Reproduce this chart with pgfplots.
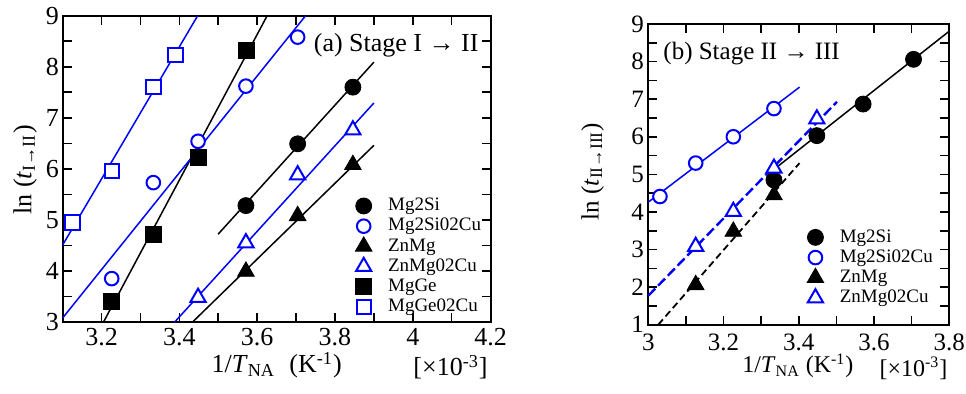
\documentclass[border=0pt]{standalone}
\usepackage{pgfplots}
\pgfplotsset{compat=1.18}
\usepackage{fontspec}
\setmainfont{Liberation Serif}
\definecolor{myblue}{RGB}{0,0,255}
\tikzset{
 fcirc/.style={black, mark=*, mark size=4pt, mark options={solid, fill=black}},
 ocirc/.style={myblue, mark=*, mark size=3.4pt, mark options={solid, fill=white, line width=1pt}},
 ftri/.style={black, mark=triangle*, mark size=4.8pt, mark options={solid, fill=black}},
 otri/.style={myblue, mark=triangle*, mark size=4.4pt, mark options={solid, fill=white, line width=1pt}},
 fsq/.style={black, mark=square*, mark size=4pt, mark options={solid, fill=black}},
 osq/.style={myblue, mark=square*, mark size=3.6pt, mark options={solid, fill=white, line width=1pt}},
}
\pgfplotsset{
 common/.style={
  scale only axis, clip=false,
  tick align=inside, major tick length=4.5pt, minor tick length=4.5pt,
  every tick/.style={black, line width=0.8pt},
  axis line style={line width=1pt},
  /pgf/number format/assume math mode=true,
  xticklabel style={inner sep=0pt, anchor=north},
  yticklabel style={inner sep=0pt, anchor=east},
  legend cell align=left,
  legend image code/.code={\path (-4.2pt,-4.85pt) (12pt,4.85pt); \draw[##1] plot coordinates {(0pt,0pt)};},
 },
 lgd/.style={legend style={draw=none, fill=none, inner sep=0pt, outer sep=0pt, anchor=north west,
   font=\fontsize{9.5}{11}\selectfont, row sep=0pt, column sep=0pt,
   nodes={inner sep=0pt, text height=6.6pt, text depth=1.8pt}}},
}
\begin{document}
\begin{tikzpicture}[x=1pt,y=1pt]
\useasboundingbox (0,0) rectangle (483,197);
% ---------------- (a)
\begin{axis}[common, lgd,
 at={(31.35pt,36pt)}, anchor=south west,
 width=213.95pt, height=153.15pt,
 xmin=3.1, xmax=4.2, ymin=3, ymax=9,
 xtick={3.2,3.4,3.6,3.8,4,4.2}, minor xtick={3.1,3.3,3.5,3.7,3.9,4.1},
 ytick={3,4,5,6,7,8,9}, minor ytick={3.5,4.5,5.5,6.5,7.5,8.5},
 tick label style={font=\fontsize{13}{15}\selectfont},
 xticklabel style={yshift=-3pt},
 yticklabel style={xshift=-1.7pt},
 xlabel={1/\textit{T}\textsubscript{NA}\hspace{0.55em}(K\textsuperscript{-1})},
 ylabel={ln (\textit{t}\textsubscript{I→II})},
 x label style={at={(axis description cs:0.5,-0.1665)}, anchor=base, font=\fontsize{13}{15}\selectfont},
 y label style={at={(axis description cs:-0.088,0.4966)}, anchor=center, font=\fontsize{13}{15}\selectfont},
 legend style={at={(axis description cs:0.6829,0.4117)}},
]
% fit lines
\addplot[myblue, line width=0.75pt, forget plot] coordinates {(3.1,4.51) (3.447,9)};
\addplot[black, line width=0.75pt, forget plot] coordinates {(3.205,3) (3.6257,9)};
\addplot[myblue, line width=0.75pt, forget plot] coordinates {(3.1,3.08) (3.7245,9)};
\addplot[black, line width=0.75pt, forget plot] coordinates {(3.4996,4.72) (3.90,8.09)};
\addplot[myblue, line width=0.75pt, forget plot] coordinates {(3.388,3) (3.90,7.29)};
\addplot[black, line width=0.75pt, forget plot] coordinates {(3.434,3) (3.90,6.46)};
% data
\addplot[only marks, fsq, forget plot] coordinates {(3.226,3.40) (3.333,4.71) (3.448,6.22) (3.571,8.32)};
\addplot[only marks, osq, forget plot] coordinates {(3.125,4.95) (3.226,5.96) (3.333,7.60) (3.390,8.23)};
\addplot[only marks, fcirc, forget plot] coordinates {(3.571,5.28) (3.704,6.49) (3.846,7.60)};
\addplot[only marks, ftri, forget plot] coordinates {(3.571,3.99) (3.704,5.08) (3.846,6.08)};
\addplot[only marks, otri, forget plot] coordinates {(3.448,3.48) (3.571,4.55) (3.704,5.88) (3.846,6.76)};
\addplot[only marks, ocirc, forget plot] coordinates {(3.226,3.85) (3.333,5.73) (3.448,6.54) (3.571,7.62) (3.704,8.58)};
\addlegendimage{fcirc}\addlegendentry{Mg2Si}
\addlegendimage{ocirc}\addlegendentry{Mg2Si02Cu}
\addlegendimage{ftri}\addlegendentry{ZnMg}
\addlegendimage{otri}\addlegendentry{ZnMg02Cu}
\addlegendimage{fsq}\addlegendentry{MgGe}
\addlegendimage{osq}\addlegendentry{MgGe02Cu}
\node[anchor=west, font=\fontsize{13}{15}\selectfont, inner sep=0pt] at (axis description cs:0.586,0.904) {(a) Stage I → II};
\node[anchor=base east, font=\fontsize{13}{15}\selectfont, inner sep=0pt] at (axis description cs:0.994,-0.176) {[×10\textsuperscript{-3}]};
\end{axis}
% ---------------- (b)
\begin{axis}[common, lgd,
 at={(324.15pt,34.65pt)}, anchor=south west,
 width=150.5pt, height=150.35pt,
 xmin=3, xmax=3.8, ymin=1, ymax=9,
 xtick={3,3.2,3.4,3.6,3.8}, minor xtick={3.1,3.3,3.5,3.7},
 ytick={1,2,3,4,5,6,7,8,9}, minor ytick={1.5,2.5,3.5,4.5,5.5,6.5,7.5,8.5},
 tick label style={font=\fontsize{12.5}{15}\selectfont},
 xticklabel style={yshift=-4.5pt},
 yticklabel style={xshift=-2pt},
 xlabel={1/\textit{T}\textsubscript{NA} (K\textsuperscript{-1})},
 ylabel={ln (\textit{t}\textsubscript{II→III})},
 x label style={at={(axis description cs:0.497,-0.1606)}, anchor=base, font=\fontsize{12}{15}\selectfont},
 y label style={at={(axis description cs:-0.185,0.509)}, anchor=center, font=\fontsize{12.5}{15}\selectfont},
 legend style={at={(axis description cs:0.5261,0.3240)}},
]
\addplot[black, line width=0.75pt, forget plot] coordinates {(3.33,5.10) (3.8,8.81)};
\addplot[myblue, line width=0.75pt, forget plot] coordinates {(3.0,4.26) (3.402,7.32)};
\addplot[myblue, line width=1.2pt, dash pattern=on 5pt off 2pt, forget plot] coordinates {(3.0,1.77) (3.5015,6.93)};
\addplot[black, line width=0.9pt, dash pattern=on 3.5pt off 2pt, forget plot] coordinates {(3.0265,1) (3.402,5.30)};
\addplot[only marks, fcirc, forget plot] coordinates {(3.334,4.85) (3.448,6.03) (3.571,6.87) (3.705,8.06)};
\addplot[only marks, ftri, forget plot] coordinates {(3.126,2.06) (3.226,3.48) (3.334,4.45)};
\addplot[only marks, otri, forget plot] coordinates {(3.126,3.08) (3.226,4.01) (3.334,5.16) (3.448,6.47)};
\addplot[only marks, ocirc, forget plot] coordinates {(3.031,4.41) (3.126,5.30) (3.226,6.00) (3.334,6.75)};
\addlegendimage{fcirc}\addlegendentry{Mg2Si}
\addlegendimage{ocirc}\addlegendentry{Mg2Si02Cu}
\addlegendimage{ftri}\addlegendentry{ZnMg}
\addlegendimage{otri}\addlegendentry{ZnMg02Cu}
\node[anchor=west, font=\fontsize{12.5}{15}\selectfont, inner sep=0pt] at (axis description cs:0.049,0.9025) {(b) Stage II → III};
\node[anchor=base east, font=\fontsize{12}{15}\selectfont, inner sep=0pt] at (axis description cs:0.995,-0.172) {[×10\textsuperscript{-3}]};
\end{axis}
\end{tikzpicture}
\end{document}
